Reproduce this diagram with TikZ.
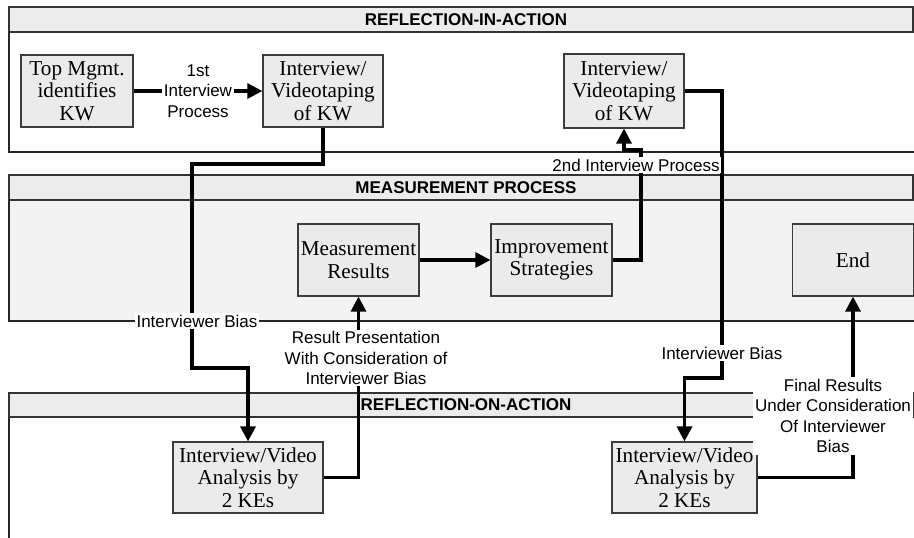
\documentclass[tikz,border=0pt]{standalone}
\usepackage{fontspec}
\setmainfont{Liberation Serif}
\setsansfont{Liberation Sans}
\usetikzlibrary{arrows.meta}
\definecolor{boxgray}{RGB}{235,235,235}
\definecolor{headgray}{RGB}{236,236,236}
\definecolor{lanegray}{RGB}{243,243,243}
\definecolor{rim}{RGB}{60,60,60}
\tikzset{
  >={Triangle[length=7.5pt,width=7.5pt]},
  box/.style={draw=rim,fill=boxgray,line width=0.6pt,inner sep=1pt,align=center,
    font=\fontsize{10.6}{11.2}\selectfont},
  flow/.style={->,line width=1.6pt,draw=black},
  tag/.style={fill=white,inner sep=0.8pt,align=center,font=\sffamily\fontsize{8.5}{10.3}\selectfont},
  lanehead/.style={draw=black!80,fill=headgray,line width=0.6pt},
  laneline/.style={draw=black!85,line width=0.6pt},
  lanetitle/.style={font=\sffamily\bfseries\fontsize{8.5}{10}\selectfont},
}
\begin{document}
\begin{tikzpicture}[x=0.5pt,y=-0.5pt]
  \useasboundingbox (0,0) rectangle (914,537);
  % lanes
  \draw[lanehead] (9,7) rectangle (913,32);
  \draw[laneline] (9,32) -- (9,152) -- (916,152);
  \node[lanetitle] (lane1) at (466,19.5) {REFLECTION-IN-ACTION};
  \fill[lanegray] (9,200) rectangle (916,321);
  \draw[lanehead] (9,175) rectangle (913,200);
  \draw[laneline] (9,200) -- (9,321) -- (916,321);
  \node[lanetitle] (lane2) at (466,187.5) {MEASUREMENT PROCESS};
  \draw[lanehead] (9,393) rectangle (913,417);
  \draw[laneline] (9,417) -- (9,540);
  \node[lanetitle] (lane3) at (466,405) {REFLECTION-ON-ACTION};
  % boxes
  \node[box,minimum width=56pt,minimum height=36pt] (mgmt) at (77,91) {Top Mgmt.\\identifies\\KW};
  \node[box,minimum width=60pt,minimum height=36pt] (tape1) at (323,91) {Interview/\\Videotaping\\of KW};
  \node[box,minimum width=60pt,minimum height=37pt] (tape2) at (624,91) {Interview/\\Videotaping\\of KW};
  \node[box,minimum width=60.5pt,minimum height=36pt] (results) at (358.5,260) {Measurement\\Results};
  \node[box,minimum width=60.5pt,minimum height=36pt] (improve) at (551.5,260) {Improvement\\Strategies};
  \node[box,minimum width=60.5pt,minimum height=36pt] (end) at (853,260) {End};
  \node[box,minimum width=75pt,minimum height=35.5pt] (ana1) at (248,477.5) {Interview/Video\\Analysis by\\2 KEs};
  \node[box,minimum width=72.5pt,minimum height=35.5pt] (ana2) at (684.5,477.5) {Interview/Video\\Analysis by\\2 KEs};
  % connectors
  \draw[flow] (mgmt) -- node[tag] (first) {1st\\Interview\\Process} (tape1);
  \draw[flow] (tape1.south) |- (192,164) -- (192,368) -| (ana1.north);
  \draw[flow] (ana1.east) -| (results.south);
  \draw[flow] (results) -- (improve);
  \draw[flow] (improve.east) -| (641,150) -| (tape2.south);
  \draw[flow] (tape2.east) -| (722,378) -| (ana2.north);
  \draw[flow] (ana2.east) -| (end.south);
  % labels
  \node[tag] (bias1) at (197,321) {Interviewer Bias};
  \node[tag] (present) at (366,358) {Result Presentation\\With Consideration of\\Interviewer Bias};
  \node[tag] (second) at (636,165) {2nd Interview Process};
  \node[tag] (bias2) at (722,353) {Interviewer Bias};
  \node[tag] (final) at (833,416) {Final Results\\Under Consideration\\Of Interviewer\\Bias};
\end{tikzpicture}
\end{document}
